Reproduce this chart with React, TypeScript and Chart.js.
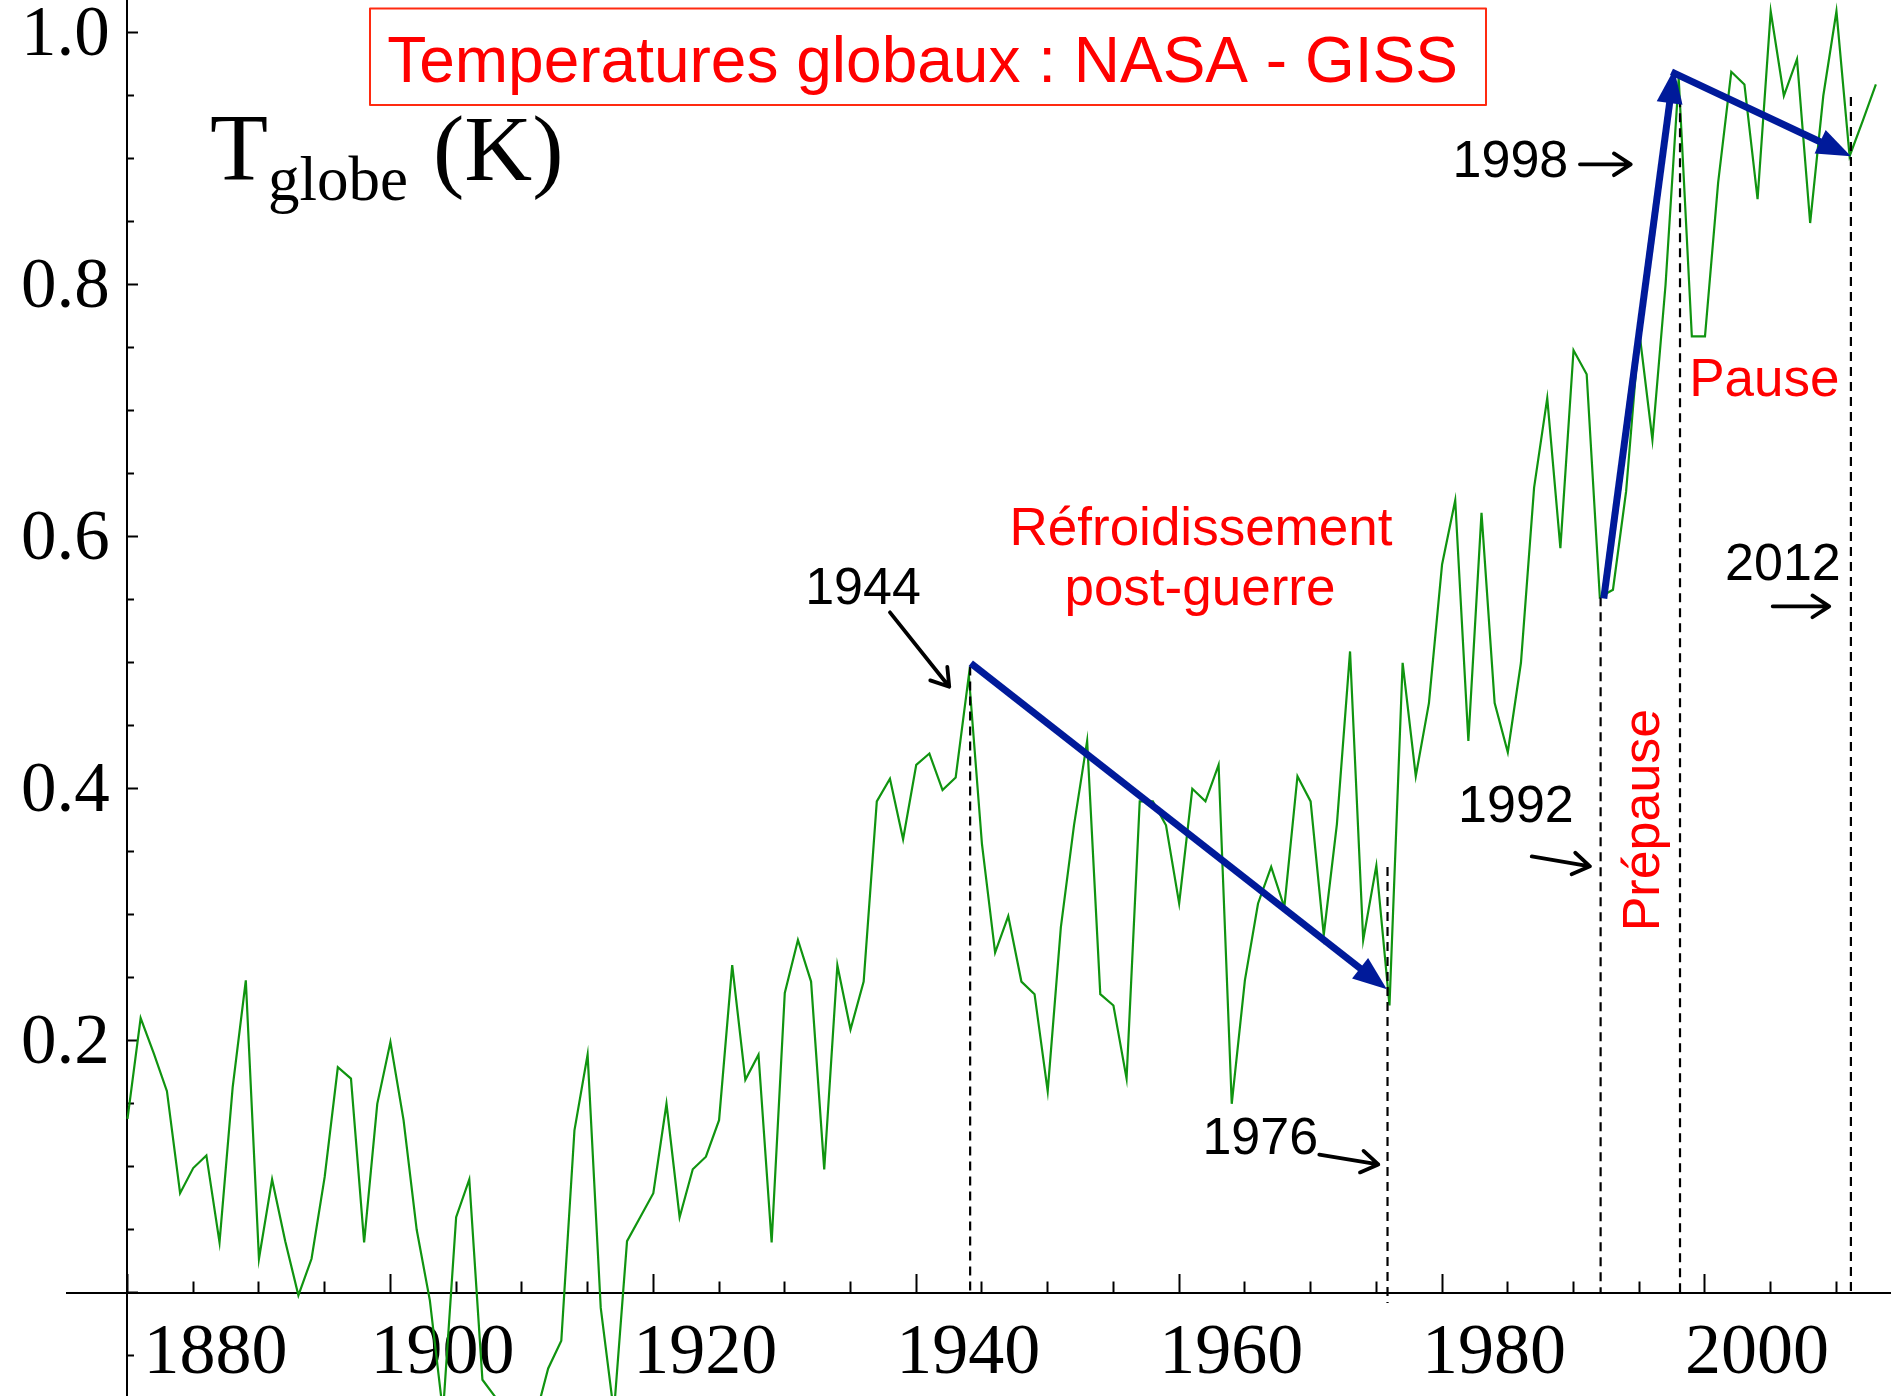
import React, { useEffect, useRef } from 'react';
import { Chart, registerables } from 'chart.js';

Chart.register(...registerables);

// ---------------- data ----------------
const FIRST_YEAR = 1880;
const TEMPS = [
  // 1880s
  0.138, 0.218, 0.19, 0.16, 0.079, 0.099, 0.109, 0.04, 0.163, 0.248,
  // 1890s
  0.027, 0.09, 0.041, -0.002, 0.027, 0.092, 0.179, 0.17, 0.04, 0.15,
  // 1900s
  0.199, 0.137, 0.05, -0.006, -0.095, 0.06, 0.09, -0.069, -0.083, -0.13,
  // 1910s
  -0.1, -0.1, -0.06, -0.038, 0.129, 0.189, -0.012, -0.095, 0.041, 0.06,
  // 1920s
  0.079, 0.15, 0.06, 0.098, 0.108, 0.137, 0.26, 0.169, 0.189, 0.04,
  // 1930s
  0.238, 0.28, 0.247, 0.098, 0.26, 0.209, 0.247, 0.39, 0.408, 0.36,
  // 1940s
  0.419, 0.428, 0.399, 0.409, 0.49, 0.356, 0.27, 0.299, 0.247, 0.237,
  // 1950s
  0.16, 0.29, 0.371, 0.438, 0.237, 0.228, 0.17, 0.39, 0.39, 0.371,
  // 1960s
  0.309, 0.4, 0.39, 0.419, 0.15, 0.248, 0.309, 0.338, 0.306, 0.41,
  // 1970s
  0.39, 0.284, 0.372, 0.509, 0.28, 0.339, 0.228, 0.5, 0.41, 0.468,
  // 1980s
  0.578, 0.629, 0.438, 0.619, 0.468, 0.429, 0.5, 0.639, 0.71, 0.591,
  // 1990s
  0.748, 0.729, 0.552, 0.558, 0.636, 0.763, 0.677, 0.8, 0.964, 0.759,
  // 2000s
  0.759, 0.881, 0.969, 0.959, 0.868, 1.017, 0.95, 0.979, 0.849, 0.95,
  // 2010s
  1.017, 0.902, 0.93, 0.959,
];
const YEARS = TEMPS.map((_, i) => FIRST_YEAR + i);

const X_MAJOR_TICKS = [1880, 1900, 1920, 1940, 1960, 1980, 2000];
const X_TICK_LABELS = ['1880', '1900', '1920', '1940', '1960', '1980', '2000'];
const X_MINOR_TICKS = [
  1885, 1890, 1895, 1905, 1910, 1915, 1925, 1930, 1935, 1945, 1950, 1955,
  1965, 1970, 1975, 1985, 1990, 1995, 2005, 2010,
];
const Y_MAJOR_TICKS = [0, 0.2, 0.4, 0.6, 0.8, 1.0];
const Y_TICK_LABELS = ['', '0.2', '0.4', '0.6', '0.8', '1.0'];
const Y_MINOR_TICKS = [
  -0.05, 0.05, 0.1, 0.15, 0.25, 0.3, 0.35, 0.45, 0.5, 0.55, 0.65, 0.7, 0.75,
  0.85, 0.9, 0.95,
];

// annotations, in data units
const DASHED_X = [1944.1, 1975.85, 1992.06, 1998.1, 2011.1];
const DASHED_TOP = [0.497, 0.338, 0.552, 0.948, 0.949];
const DASHED_BOTTOM = [0, -0.008, 0, 0, 0];

const TREND_ARROWS = [
  [1944.15, 0.4996, 1975.8, 0.241],
  [1992.3, 0.551, 1997.65, 0.971],
  [1997.45, 0.969, 2011.1, 0.902],
];

const YEAR_LABELS = ['1944', '1976', '1992', '1998', '2012'];
const YEAR_LABEL_POS = [
  [1935.95, 0.5578],
  [1966.17, 0.1215],
  [1985.62, 0.3848],
  [1985.2, 0.8967],
  [2005.93, 0.5773],
];
const YEAR_ARROWS = [
  [1938.0, 0.54, 1942.51, 0.481],
  [1970.66, 0.1097, 1975.15, 0.1019],
  [1986.82, 0.3463, 1991.25, 0.3385],
  [1990.49, 0.8956, 1994.35, 0.8956],
  [2005.15, 0.5448, 2009.45, 0.5448],
];

const RED_TEXTS = ['Réfroidissement', 'post-guerre', 'Pause'];
const RED_TEXT_POS = [
  [1961.66, 0.5935],
  [1961.58, 0.5459],
  [2004.52, 0.7117],
];
const PREPAUSE_TEXT = 'Prépause';
const PREPAUSE_POS = [1996.5, 0.3752];

const TITLE = 'Temperatures globaux : NASA - GISS';

// ---------------- styles ----------------
const W = 1891;
const H = 1396;
const X_MIN = 1875.375;
const X_MAX = 2014.15;
const Y_MIN = -0.0819;
const Y_MAX = 1.026;
const GREEN = 'rgb(16,148,16)';
const BLUE = 'rgb(0,26,154)';
const RED = '#ff0000';
const SERIF = '"Liberation Serif", "Times New Roman", serif';
const SANS = '"Liberation Sans", Arial, sans-serif';

const zeroPad = (s: any) => {
  s.paddingLeft = 0;
  s.paddingRight = 0;
  s.paddingTop = 0;
  s.paddingBottom = 0;
};

function filledArrow(ctx: CanvasRenderingContext2D, x0: number, y0: number, x1: number, y1: number) {
  const dx = x1 - x0;
  const dy = y1 - y0;
  const len = Math.hypot(dx, dy);
  const ux = dx / len;
  const uy = dy / len;
  const hl = 34;
  const hw = 13;
  const bx = x1 - ux * hl;
  const by = y1 - uy * hl;
  ctx.strokeStyle = BLUE;
  ctx.fillStyle = BLUE;
  ctx.lineWidth = 7;
  ctx.lineCap = 'butt';
  ctx.beginPath();
  ctx.moveTo(x0, y0);
  ctx.lineTo(bx + ux * 4, by + uy * 4);
  ctx.stroke();
  ctx.beginPath();
  ctx.moveTo(x1, y1);
  ctx.lineTo(bx - uy * hw, by + ux * hw);
  ctx.lineTo(bx + uy * hw, by - ux * hw);
  ctx.closePath();
  ctx.fill();
}

function openArrow(ctx: CanvasRenderingContext2D, x0: number, y0: number, x1: number, y1: number) {
  const a = Math.atan2(y1 - y0, x1 - x0);
  const arm = 20;
  const spread = (33 * Math.PI) / 180;
  ctx.strokeStyle = '#000';
  ctx.lineWidth = 3.8;
  ctx.lineCap = 'round';
  ctx.lineJoin = 'round';
  ctx.beginPath();
  ctx.moveTo(x0, y0);
  ctx.lineTo(x1, y1);
  ctx.moveTo(x1 - arm * Math.cos(a - spread), y1 - arm * Math.sin(a - spread));
  ctx.lineTo(x1, y1);
  ctx.lineTo(x1 - arm * Math.cos(a + spread), y1 - arm * Math.sin(a + spread));
  ctx.stroke();
}

const annotationPlugin = {
  id: 'annotations',
  afterDatasetsDraw(chart: any) {
    const ctx: CanvasRenderingContext2D = chart.ctx;
    const xs = chart.scales.x;
    const ys = chart.scales.y;
    const X = (v: number) => xs.getPixelForValue(v);
    const Y = (v: number) => ys.getPixelForValue(v);
    ctx.save();

    // dashed verticals
    ctx.strokeStyle = '#000';
    ctx.lineWidth = 2.2;
    ctx.setLineDash([9, 6]);
    DASHED_X.forEach((x, i) => {
      ctx.beginPath();
      ctx.moveTo(X(x), Y(DASHED_TOP[i]));
      ctx.lineTo(X(x), Y(DASHED_BOTTOM[i]));
      ctx.stroke();
    });
    ctx.setLineDash([]);

    // blue trend arrows
    TREND_ARROWS.forEach(([a, b, c, d]) => filledArrow(ctx, X(a), Y(b), X(c), Y(d)));

    // black pointer arrows
    YEAR_ARROWS.forEach(([a, b, c, d]) => openArrow(ctx, X(a), Y(b), X(c), Y(d)));

    // year labels
    ctx.fillStyle = '#000';
    ctx.font = `52px ${SANS}`;
    ctx.textAlign = 'center';
    ctx.textBaseline = 'middle';
    YEAR_LABELS.forEach((t, i) => ctx.fillText(t, X(YEAR_LABEL_POS[i][0]), Y(YEAR_LABEL_POS[i][1])));

    // red labels
    ctx.fillStyle = RED;
    ctx.font = `53px ${SANS}`;
    ctx.textBaseline = 'alphabetic';
    RED_TEXTS.forEach((t, i) => ctx.fillText(t, X(RED_TEXT_POS[i][0]), Y(RED_TEXT_POS[i][1])));

    ctx.save();
    ctx.translate(X(PREPAUSE_POS[0]), Y(PREPAUSE_POS[1]));
    ctx.rotate(-Math.PI / 2);
    ctx.font = `52px ${SANS}`;
    ctx.textAlign = 'center';
    ctx.textBaseline = 'alphabetic';
    ctx.fillText(PREPAUSE_TEXT, 0, 0);
    ctx.restore();

    // title box
    ctx.strokeStyle = '#ff2a10';
    ctx.lineWidth = 2;
    ctx.strokeRect(370, 8.5, 1116, 96.5);
    ctx.fillStyle = RED;
    ctx.font = `64px ${SANS}`;
    ctx.textAlign = 'center';
    ctx.textBaseline = 'alphabetic';
    ctx.fillText(TITLE, 922.5, 82);

    // axis title  T_globe (K)
    ctx.fillStyle = '#000';
    ctx.textAlign = 'left';
    ctx.font = `95px ${SERIF}`;
    ctx.fillText('T', 210, 180);
    ctx.font = `63px ${SERIF}`;
    ctx.fillText('globe', 268, 200);
    ctx.font = `94px ${SERIF}`;
    ctx.fillText('(K)', 433, 180);

    ctx.restore();
  },
};

export default function App() {
  const ref = useRef<HTMLCanvasElement>(null);

  useEffect(() => {
    document.body.style.margin = '0';
    const canvas = ref.current;
    if (!canvas) return;

    const majorGrid = (len: number) => ({
      drawOnChartArea: false,
      drawTicks: true,
      tickLength: len,
      tickWidth: 2,
      tickColor: '#000',
      color: '#000',
    });

    const chart = new Chart(canvas, {
      type: 'line',
      data: {
        datasets: [
          {
            data: YEARS.map((x, i) => ({ x, y: TEMPS[i] })),
            borderColor: GREEN,
            borderWidth: 2.2,
            pointRadius: 0,
            tension: 0,
            fill: false,
          },
        ],
      },
      options: {
        animation: false,
        responsive: false,
        devicePixelRatio: 1,
        events: [],
        layout: { padding: { left: 66.7, right: 0, top: 0, bottom: 0 } },
        plugins: {
          legend: { display: false },
          tooltip: { enabled: false },
          title: { display: false },
        },
        scales: {
          x: {
            type: 'linear',
            min: X_MIN,
            max: X_MAX,
            position: { y: 0 },
            afterBuildTicks: (s: any) => {
              s.ticks = X_MAJOR_TICKS.map((v) => ({ value: v }));
            },
            afterFit: zeroPad,
            ticks: {
              autoSkip: false,
              maxRotation: 0,
              minRotation: 0,
              labelOffset: 52,
              padding: 38,
              color: '#000',
              font: { family: SERIF, size: 72 },
              callback: (v: any) => {
                const i = X_MAJOR_TICKS.indexOf(Number(v));
                const t = i >= 0 ? X_TICK_LABELS[i] : '';
                return i === 0 ? '    ' + t : t;
              },
            },
            grid: majorGrid(-20),
            border: { display: true, color: '#000', width: 2 },
          },
          x2: {
            type: 'linear',
            axis: 'x',
            min: X_MIN,
            max: X_MAX,
            position: { y: 0 },
            afterBuildTicks: (s: any) => {
              s.ticks = X_MINOR_TICKS.map((v) => ({ value: v }));
            },
            afterFit: zeroPad,
            ticks: { display: false, autoSkip: false },
            grid: majorGrid(-11.5),
            border: { display: false },
          },
          y: {
            type: 'linear',
            min: Y_MIN,
            max: Y_MAX,
            position: { x: 1880 },
            afterBuildTicks: (s: any) => {
              s.ticks = Y_MAJOR_TICKS.map((v) => ({ value: v }));
            },
            afterFit: zeroPad,
            ticks: {
              autoSkip: false,
              padding: 31,
              labelOffset: 4,
              color: '#000',
              font: { family: SERIF, size: 71 },
              callback: (v: any) => {
                const i = Y_MAJOR_TICKS.findIndex((t) => Math.abs(t - Number(v)) < 1e-6);
                // trailing space keeps the label clear of the axis line
                return i >= 0 && Y_TICK_LABELS[i] ? Y_TICK_LABELS[i] + ' ' : '';
              },
            },
            grid: majorGrid(-12),
            border: { display: true, color: '#000', width: 2 },
          },
          y2: {
            type: 'linear',
            axis: 'y',
            min: Y_MIN,
            max: Y_MAX,
            position: { x: 1880 },
            afterBuildTicks: (s: any) => {
              s.ticks = Y_MINOR_TICKS.map((v) => ({ value: v }));
            },
            afterFit: zeroPad,
            ticks: { display: false, autoSkip: false },
            grid: majorGrid(-7),
            border: { display: false },
          },
        },
      } as any,
      plugins: [annotationPlugin],
    });

    return () => chart.destroy();
  }, []);

  return (
    <div style={{ position: 'absolute', left: 0, top: 0, width: W, height: H }}>
      <canvas ref={ref} width={W} height={H} style={{ display: 'block', width: W, height: H }} />
    </div>
  );
}
